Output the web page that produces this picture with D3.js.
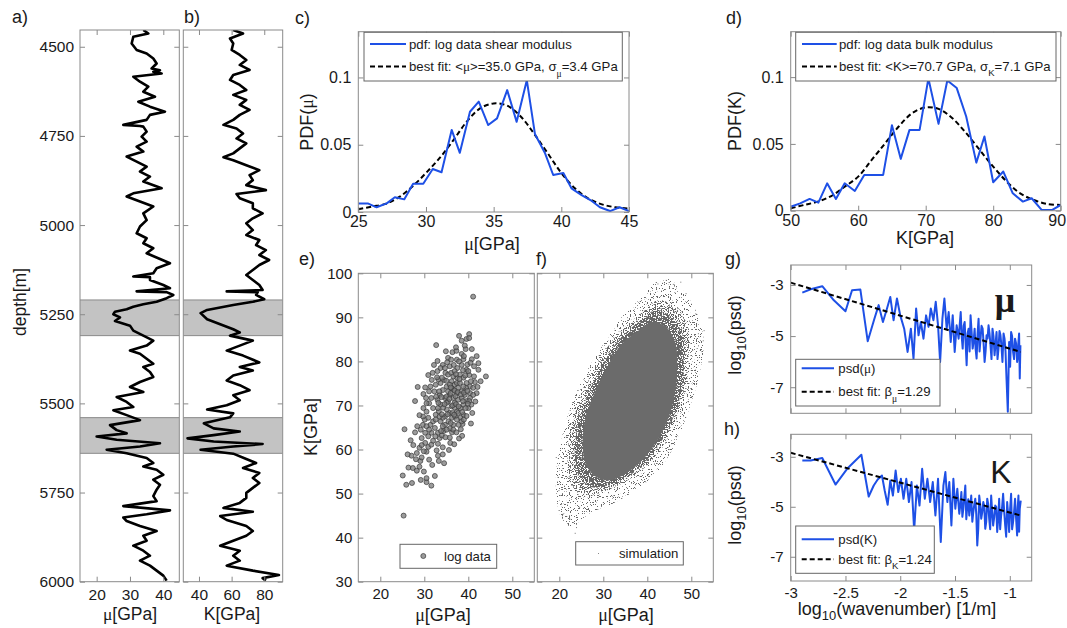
<!DOCTYPE html>
<html><head><meta charset="utf-8">
<script src="https://cdn.jsdelivr.net/npm/d3@7"></script>
<style>
html,body{margin:0;padding:0;background:#fff;}
svg{display:block;font-family:"Liberation Sans",Arial,sans-serif;}
</style></head><body>
<svg id="chart" width="1067" height="628"></svg>
<script>
// ---------------- DATA ----------------
// a) shear modulus log [depth m, mu GPa]
const logMu = [[4453,34],[4463,35.5],[4472,31],[4491,30.5],[4509,32],[4519,35],[4533,37],[4547,38],[4561,36.5],[4566,39],[4570,37],[4575,39.5],[4584,31],[4598,33],[4612,35.5],[4626,34],[4640,37.5],[4654,32.5],[4668,36],[4682,40.5],[4691,36],[4705,35],[4719,28],[4722,33],[4724,34],[4738,35],[4752,33.5],[4766,35],[4780,32],[4794,34],[4808,29],[4822,32],[4836,35],[4850,33],[4864,36],[4878,34],[4897,39.5],[4911,31],[4920,29],[4934,33],[4948,37],[4967,34],[4986,35],[5004,33],[5023,32],[5037,35],[5051,34],[5065,37],[5079,35],[5093,38.5],[5107,42],[5121,38],[5135,37],[5144,31],[5146,36],[5154,36],[5168,40],[5177,42],[5186,32],[5188,41],[5196,43],[5205,41],[5215,38],[5222,34],[5229,31],[5236,29],[5243,25.5],[5250,25],[5259,27],[5269,25.5],[5282,30],[5296,31],[5310,34],[5324,37],[5338,35],[5352,30],[5361,33],[5375,35],[5389,37],[5398,34],[5412,36],[5426,37],[5440,33],[5454,30],[5468,34],[5482,26],[5496,29],[5510,31],[5519,25],[5533,29],[5547,33],[5561,24],[5575,26],[5584,29],[5593,20],[5602,26],[5612,39],[5621,33],[5630,23],[5640,29],[5653,35],[5667,37],[5677,34],[5686,38],[5700,40],[5714,37],[5728,39],[5742,38],[5760,37],[5774,38],[5788,28],[5800,42],[5811,35],[5820,28],[5830,29],[5844,33],[5858,38],[5871,34],[5885,35],[5899,31],[5913,34],[5927,36],[5941,33],[5955,36],[5969,38],[5983,40],[5997,41]];
// b) bulk modulus log [depth m, K GPa]
const logK = [[4453,61],[4463,67],[4477,59],[4491,61],[4509,60],[4523,65],[4537,69],[4551,65],[4565,71],[4579,61],[4593,59],[4607,65],[4621,69],[4635,61],[4649,69],[4663,65],[4677,71],[4691,65],[4705,61],[4719,55],[4729,63],[4743,67],[4757,63],[4771,69],[4785,65],[4799,61],[4810,55],[4818,61],[4832,69],[4846,77],[4860,71],[4874,73],[4888,69],[4902,81],[4913,63],[4925,65],[4939,73],[4953,73],[4967,79],[4981,73],[4995,69],[5014,73],[5028,69],[5042,77],[5056,75],[5070,81],[5084,77],[5098,83],[5112,77],[5126,73],[5140,69],[5154,73],[5168,77],[5182,79],[5186,57],[5188,76],[5196,75],[5208,80],[5215,73],[5224,61],[5238,45],[5247,41],[5264,45],[5278,53],[5292,61],[5301,65],[5310,59],[5324,73],[5338,65],[5352,57],[5366,67],[5385,77],[5398,65],[5408,73],[5422,61],[5436,57],[5449,65],[5463,71],[5477,61],[5491,65],[5505,57],[5517,45],[5528,61],[5539,59],[5556,43],[5570,49],[5579,65],[5589,49],[5598,33],[5607,49],[5614,79],[5621,61],[5630,41],[5641,61],[5656,69],[5667,75],[5681,67],[5695,77],[5709,73],[5723,77],[5737,73],[5751,69],[5765,69],[5779,65],[5793,55],[5804,73],[5816,53],[5827,57],[5844,69],[5858,73],[5871,69],[5885,61],[5899,53],[5913,65],[5927,61],[5941,65],[5955,57],[5969,73],[5981,89],[5990,79],[5997,81]];
// shaded depth intervals [top, bottom]
const bands = [[5210,5310],[5540,5640]];
const depthTicks = [4500,4750,5000,5250,5500,5750,6000];
const muTicksLog = [20,30,40];
const kTicksLog = [40,60,80];

// c) pdf of shear modulus
const pdfMuX = [25,25.7,26.35,27.1,27.7,28.4,29.05,29.8,30.5,31.15,31.9,32.5,33.25,33.9,34.6,35.25,36.0,36.7,37.45,38.05,38.8,39.4,40.15,40.75,41.5,42.25,42.85,43.6,44.3,45];
const pdfMuY = [0.0064,0.0064,0.0035,0.0064,0.011,0.0094,0.021,0.021,0.032,0.0295,0.061,0.044,0.0745,0.082,0.0646,0.0696,0.0906,0.067,0.098,0.058,0.0436,0.0275,0.029,0.0176,0.0126,0.0082,0.0035,0.0007,0.0035,0.0007];
const fitMuX = [25,26,27,28,29,30,31,32,33,34,35,36,37,38,39,40,41,42,43,44,45];
const fitMuY = [0.002,0.004,0.006,0.011,0.019,0.029,0.040,0.053,0.067,0.077,0.0807,0.079,0.071,0.058,0.0436,0.029,0.0176,0.010,0.0057,0.0035,0.0025];
// d) pdf of bulk modulus
const pdfKX = [50,51.4,52.8,54.1,55.4,56.7,58.0,59.5,60.9,62.2,63.7,65.0,66.3,67.6,69.1,70.4,71.9,73.2,74.6,76.0,77.5,78.7,80.0,81.5,82.9,84.4,85.7,87.2,88.7,90];
const pdfKY = [0.003,0.0055,0.0088,0.006,0.0205,0.0088,0.0205,0.0148,0.0268,0.0268,0.0268,0.064,0.0388,0.0605,0.0605,0.099,0.065,0.0975,0.0918,0.0705,0.036,0.0555,0.0213,0.0293,0.013,0.0068,0.0093,0.0005,0.0005,0.0043];
const fitKX = [50,52,54,56,58,60,62,64,66,68,70,72,74,76,78,80,82,84,86,88,90];
const fitKY = [0.0018,0.0043,0.0068,0.011,0.018,0.0255,0.038,0.0505,0.063,0.073,0.0773,0.076,0.069,0.058,0.0455,0.033,0.0218,0.013,0.008,0.005,0.0043];
const pdfMuTicks = [25,30,35,40,45];
const pdfKTicks = [50,60,70,80,90];
const pdfYTicks = [0,0.05,0.1];

// e) cross-plot of log data [mu, K]
const crossLog = [[41.1,94.7],[32.7,83.7],[25.3,45],[25.5,64.6],[25.1,54.1],[25.9,52],[27.2,52.4],[26.4,55.9],[26.9,62.1],[27.5,61],[27.9,71],[28.5,74.2],[27.4,55.8],[28.3,55.2],[28.9,56.1],[29.1,57.4],[29.4,58.2],[29.9,55],[30.5,52.6],[30.5,53.5],[31.6,51.8],[32.4,54],[29.4,62.6],[30.2,63.8],[29.7,65.6],[30.1,66.8],[30.5,59.5],[30.9,60.6],[31.6,61.1],[32.0,62],[33.1,58.6],[33.3,57.4],[34.2,58.9],[34.2,60.5],[32.0,69.4],[33.0,71.3],[31.1,73.2],[31.4,74.3],[31.9,77.4],[32.2,79.2],[31.1,70.5],[29.8,69.4],[30.4,71.7],[30.5,68.6],[30.9,67.2],[31.4,65.6],[32.0,66.4],[32.4,64.9],[33.1,63.8],[33.5,62.6],[34.0,63.2],[34.4,64.2],[32.6,67.9],[33.3,68.7],[33.7,70.2],[33.5,72.4],[34.2,73.5],[33.7,75.1],[34.5,75.8],[34.8,77.4],[34.2,79.2],[35.4,80.8],[35.8,78.9],[36.4,82.1],[37.3,82.4],[37.9,85.8],[38.5,84.7],[39.6,85.1],[40.2,86.2],[40.2,85.3],[40.8,82.8],[39.4,82.8],[38.5,81.7],[38.9,80.5],[39.8,79.3],[40.8,80.5],[41.9,81.2],[42.3,79.6],[42.3,78.1],[41.3,76.6],[41.5,75.3],[42.8,75.5],[44.0,76.6],[41.9,72.8],[40.6,65.9],[38.7,65.8],[37.8,65.6],[36.3,63.9],[35.8,62.7],[34.7,65.6],[35.5,66.4],[36.3,67.2],[37.0,67.5],[37.4,68.6],[38.2,69.4],[38.9,70.2],[39.6,71.0],[40.4,71.7],[39.2,72.4],[38.5,73.2],[37.7,74.0],[36.9,74.8],[36.2,75.5],[37.4,76.3],[38.1,77.0],[38.9,76.3],[39.6,75.1],[40.4,74.3],[41.1,74.0],[35.8,72.4],[36.6,71.7],[35.4,70.9],[36.2,69.8],[35.1,69.1],[35.8,68.3],[34.7,67.5],[36.9,70.6],[37.7,71.3],[38.5,71.7],[37.4,72.8],[36.6,73.6],[35.1,74.3],[35.8,74.7],[34.7,71.7],[34.3,69.5],[33.1,69.4],[32.6,66.8],[33.7,66.4],[34.2,65.3],[31.6,63.8],[30.9,63.0],[32.5,63.0],[33.1,61.3],[30.2,61.5],[31.1,57.7],[29.9,59.6],[28.9,60.4],[28.3,59.2],[29.4,61.0],[29.7,67.5],[29.2,64.5],[30.5,65.3],[31.1,64.5],[30.5,70.5],[31.6,71.7],[32.3,73.2],[32.6,74.7],[33.2,75.9],[33.0,77.8],[33.7,78.5],[34.7,78.5],[36.7,79.2],[37.5,78.5],[37.4,80.4],[38.5,79.2],[39.6,78.1],[40.2,76.9],[39.5,74.0],[40.4,72.8],[41.1,72.4],[40.0,69.4],[38.9,67.9],[38.2,67.2],[38.5,66.4],[36.6,65.6],[37.4,66.8],[35.8,64.8],[35.1,64.5],[34.2,67.2],[33.5,67.5],[35.1,70.6],[36.9,69.5],[37.7,68.3],[36.4,68.3],[35.4,73.2],[36.2,73.9],[37.4,75.1],[38.1,75.1],[38.9,74.3],[40.2,71.0],[40.7,70.2],[39.4,69.4],[33.4,73.2],[35.4,77.0],[36.1,77.4],[36.9,77.8],[36.6,76.6],[37.9,80.0],[39.0,81.2],
  [34.0,68.0],[34.6,70.3],[35.0,72.0],[35.3,68.0],[35.7,71.5],[36.0,66.0],[36.0,72.8],[36.4,70.0],[36.8,67.9],[36.9,73.4],[37.2,70.3],[37.2,77.1],[37.6,73.0],[37.8,69.8],[38.0,76.0],[38.3,72.5],[38.6,68.5],[38.8,78.0],[39.0,72.9],[39.3,76.8],[39.8,73.3],[40.0,77.8],[40.6,75.5],[35.0,75.6],[34.0,76.3],[33.2,70.6],[32.7,72.0],[33.8,64.2],[34.8,62.8],[35.9,61.5],[36.6,64.5],[37.3,63.9],[38.3,64.6],[39.0,66.8],[39.6,67.6],[40.9,68.3],[41.6,70.9],[42.1,74.2],[41.3,78.9],[40.5,79.7],[39.2,83.6],[37.2,83.2],[36.1,80.4],[35.2,79.8],[34.9,82.3],[33.0,80.1],[32.9,76.4],[31.7,75.8],[30.9,76.9],[29.8,72.6],[30.2,74.1],[28.9,67.8],[28.4,65.3],[27.9,63.9],[27.1,58.6],[26.2,58.9],[28.1,57.8],[29.2,53.1],[31.8,56.5],[32.8,59.8],[35.6,59.9],[36.8,61.2],[37.9,62.5],[38.6,63.1],[34.5,56.9],[33.9,71.9],[37.1,72.1],[36.0,74.1],[38.8,71.0],[39.9,70.4]];
const crossMuTicks = [20,30,40,50];
const crossKTicks = [30,40,50,60,70,80,90,100];

// f) simulation cloud outlines (dense core, inner / middle / outer fringe) and stray samples [mu, K]
const simCore = [[38.1,87.1],[41.1,89.0],[44.2,87.9],[46.4,84.1],[46.8,78.8],[46.4,73.5],[44.9,67.4],[42.3,62.1],[38.9,57.6],[35.1,54.5],[31.3,53.0],[28.3,53.8],[26.0,56.8],[25.3,61.4],[26.0,67.4],[28.3,73.5],[31.3,79.5],[34.3,84.1]];
const simInner = [[38.1,89.0],[41.9,91.5],[45.3,90.3],[47.9,86.4],[48.3,79.9],[47.8,73.5],[45.8,67.0],[42.9,61.4],[39.1,56.6],[34.7,53.3],[30.6,51.7],[27.2,51.5],[24.5,53.9],[23.5,59.1],[24.3,65.9],[26.6,72.7],[29.8,79.2],[33.2,84.5]];
const simMid = [[38.1,90.5],[42.6,93.9],[46.0,92.4],[49.1,88.3],[49.4,81.1],[48.7,73.5],[46.4,66.7],[43.4,60.6],[39.2,55.7],[34.3,52.3],[29.8,50.4],[26.0,49.6],[23.0,51.5],[21.9,56.8],[22.6,64.4],[24.9,72.0],[28.3,78.8],[32.1,84.8]];
const simOuter = [[38.1,93.9],[43.4,98.9],[47.2,97.0],[50.9,91.7],[52.8,84.8],[51.7,76.5],[49.4,68.9],[46.4,61.4],[42.6,55.3],[37.4,50.8],[32.1,47.7],[26.8,45.5],[23.0,42.4],[20.4,44.7],[19.2,52.3],[20.0,59.8],[22.3,68.9],[26.0,77.3],[30.6,84.8],[34.3,90.2]];
const simStray = [[23.8,42.4],[23.5,41.1],[20.8,45.5],[20.4,47.7],[22.3,44.3],[44.2,98.5],[45.8,97.6],[52.6,84.8],[51.5,86.4],[48.7,95.5],[42.3,97.7],[50.2,82.6],[50.9,90.9],[19.6,53.8],[19.2,58.3],[21.5,62.9],[24.5,47.0],[47.5,98.1],[52.8,87.1],[19.8,50.8]];

// g) PSD of mu [log10 wavenumber, log10 psd]
const psdMu = [[-2.894,-3.30],[-2.818,-3.17],[-2.712,-3.05],[-2.606,-3.60],[-2.5,-4.03],[-2.44,-3.21],[-2.364,-3.18],[-2.297,-5.20],[-2.236,-4.32],[-2.197,-3.79],[-2.158,-4.45],[-2.121,-3.92],[-2.091,-3.47],[-2.061,-4.38],[-2.03,-3.53],[-2.0,-4.19],[-1.964,-4.71],[-1.933,-5.62],[-1.903,-4.71],[-1.879,-5.88],[-1.855,-3.92],[-1.833,-4.97],[-1.812,-4.45],[-1.788,-5.10],[-1.764,-4.19],[-1.742,-4.64],[-1.721,-3.92],[-1.697,-4.38],[-1.676,-3.66],[-1.655,-4.58],[-1.636,-6.01],[-1.615,-4.32],[-1.597,-3.53],[-1.576,-4.71],[-1.558,-4.06],[-1.539,-5.23],[-1.521,-4.19],[-1.503,-5.62],[-1.485,-4.58],[-1.467,-5.10],[-1.448,-4.06],[-1.439,-5.0],[-1.430,-5.49],[-1.421,-4.6],[-1.412,-4.45],[-1.403,-5.3],[-1.394,-6.14],[-1.385,-4.9],[-1.376,-4.71],[-1.367,-5.6],[-1.358,-4.19],[-1.349,-4.8],[-1.339,-5.49],[-1.330,-5.2],[-1.321,-4.71],[-1.312,-5.5],[-1.303,-5.88],[-1.294,-4.9],[-1.285,-4.32],[-1.276,-5.6],[-1.267,-5.10],[-1.258,-4.6],[-1.248,-4.71],[-1.239,-5.3],[-1.230,-6.01],[-1.221,-5.6],[-1.212,-4.97],[-1.203,-5.1],[-1.194,-4.58],[-1.185,-4.9],[-1.176,-5.36],[-1.167,-5.9],[-1.158,-4.71],[-1.149,-5.0],[-1.139,-5.75],[-1.130,-5.3],[-1.121,-4.84],[-1.112,-5.9],[-1.103,-5.49],[-1.094,-4.8],[-1.085,-4.97],[-1.076,-5.4],[-1.067,-6.01],[-1.057,-4.9],[-1.048,-5.10],[-1.039,-5.6],[-1.030,-6.66],[-1.018,-7.96],[-1.006,-5.23],[-0.997,-6.2],[-0.988,-4.84],[-0.979,-5.0],[-0.970,-5.62],[-0.961,-5.9],[-0.952,-5.10],[-0.942,-5.3],[-0.933,-6.01],[-0.927,-5.8],[-0.921,-5.23],[-0.915,-4.9],[-0.909,-6.66],[-0.903,-5.36]];
const fitPsdMu = [[-3,-2.91],[-0.9,-5.62]];
// h) PSD of K
const psdK = [[-2.894,-3.15],[-2.818,-3.15],[-2.712,-3.05],[-2.591,-4.11],[-2.485,-3.48],[-2.355,-2.92],[-2.288,-4.59],[-2.242,-4.15],[-2.206,-3.91],[-2.167,-3.75],[-2.142,-4.35],[-2.115,-4.92],[-2.091,-3.95],[-2.067,-4.55],[-2.042,-3.55],[-2.018,-4.41],[-1.994,-3.88],[-1.970,-4.68],[-1.945,-3.88],[-1.921,-4.81],[-1.897,-4.01],[-1.873,-5.95],[-1.848,-4.15],[-1.824,-4.95],[-1.800,-3.48],[-1.776,-4.68],[-1.752,-3.88],[-1.727,-4.81],[-1.703,-4.01],[-1.679,-5.35],[-1.655,-3.88],[-1.630,-6.41],[-1.606,-4.15],[-1.588,-3.61],[-1.570,-4.81],[-1.552,-4.01],[-1.533,-5.75],[-1.515,-3.88],[-1.497,-5.08],[-1.479,-4.28],[-1.461,-5.28],[-1.451,-4.9],[-1.442,-4.41],[-1.433,-5.4],[-1.424,-5.08],[-1.415,-4.6],[-1.406,-4.15],[-1.397,-5.5],[-1.388,-4.95],[-1.379,-4.7],[-1.370,-5.35],[-1.361,-5.0],[-1.352,-4.55],[-1.342,-5.6],[-1.333,-5.21],[-1.324,-4.9],[-1.315,-4.68],[-1.306,-5.3],[-1.297,-6.55],[-1.288,-5.9],[-1.279,-4.55],[-1.270,-4.9],[-1.261,-5.48],[-1.251,-5.2],[-1.242,-4.81],[-1.233,-5.0],[-1.224,-5.88],[-1.215,-5.6],[-1.206,-4.68],[-1.197,-4.9],[-1.188,-5.48],[-1.179,-5.9],[-1.170,-4.55],[-1.161,-5.2],[-1.152,-5.75],[-1.142,-5.4],[-1.133,-4.95],[-1.124,-5.0],[-1.115,-6.01],[-1.106,-5.5],[-1.097,-4.68],[-1.088,-5.9],[-1.079,-5.35],[-1.070,-5.0],[-1.061,-4.48],[-1.051,-5.2],[-1.042,-5.75],[-1.033,-6.2],[-1.024,-4.81],[-1.015,-5.3],[-1.006,-6.01],[-0.997,-5.1],[-0.988,-4.48],[-0.979,-5.9],[-0.970,-5.61],[-0.961,-5.2],[-0.952,-4.68],[-0.942,-5.5],[-0.933,-6.15],[-0.927,-5.0],[-0.921,-4.55],[-0.915,-6.0],[-0.909,-5.08],[-0.900,-4.75]];
const fitPsdK = [[-3,-2.84],[-0.9,-5.35]];
const psdXTicks = [-3,-2.5,-2,-1.5,-1];
const psdYTicks = [-3,-5,-7];

// ---------------- DRAWING ----------------
const svg = d3.select('#chart');
const defs = svg.append('defs');
const BLUE = '#1e50e6', BOX = '#8a8a8a', TXT = '#1a1a1a';
const SANS = 'Liberation Sans, Arial, sans-serif', SERIF = 'Liberation Serif, Times New Roman, serif';
const LFS = 13.2;

function makePanel(id, c) {
  const x = d3.scaleLinear().domain(c.xd).range([c.x0, c.x1]);
  const y = d3.scaleLinear().domain(c.yd).range(c.yDown ? [c.y0, c.y1] : [c.y1, c.y0]);
  defs.append('clipPath').attr('id', 'clip-' + id).append('rect')
    .attr('x', c.x0).attr('y', c.y0).attr('width', c.x1 - c.x0).attr('height', c.y1 - c.y0);
  const g = svg.append('g').attr('clip-path', `url(#clip-${id})`);
  return {x, y, g, c};
}
function frame(p, o) {
  const {x, y, c} = p;
  const fs = o.fs || 15;
  const fmt = d => String(d);
  const st = sel => {
    sel.select('.domain').remove();
    sel.selectAll('.tick line').attr('stroke', BOX);
    sel.selectAll('.tick text').attr('fill', TXT).style('font-size', fs + 'px').style('font-family', SANS);
  };
  const bottom = svg.append('g').attr('transform', `translate(0,${c.y1})`)
    .call(d3.axisBottom(x).tickValues(o.xt).tickSize(-5).tickPadding(o.xpad || 7).tickFormat(o.xlab === false ? () => '' : fmt)).call(st);
  if (o.lastDx) bottom.selectAll('.tick text').filter((d, i, n) => i === n.length - 1).attr('dx', o.lastDx);
  svg.append('g').attr('transform', `translate(0,${c.y0})`)
    .call(d3.axisTop(x).tickValues(o.xt).tickSize(-5).tickFormat(() => '')).call(st);
  svg.append('g').attr('transform', `translate(${c.x0},0)`)
    .call(d3.axisLeft(y).tickValues(o.yt).tickSize(-5).tickPadding(o.ypad || 6).tickFormat(o.ylab === false ? () => '' : fmt)).call(st);
  svg.append('g').attr('transform', `translate(${c.x1},0)`)
    .call(d3.axisRight(y).tickValues(o.yt).tickSize(-5).tickFormat(() => '')).call(st);
  svg.append('rect').attr('x', c.x0).attr('y', c.y0).attr('width', c.x1 - c.x0).attr('height', c.y1 - c.y0)
    .attr('fill', 'none').attr('stroke', BOX).attr('stroke-width', 1);
}
function rich(t, parts, fs) {
  let shift = 0;
  parts.forEach(p => {
    const o = typeof p === 'string' ? {t: p} : p;
    const ts = t.append('tspan').text(o.t);
    if (o.serif) ts.style('font-family', SERIF);
    const want = o.sub || 0;
    if (want !== shift) { ts.attr('dy', want - shift); shift = want; }
    if (o.sub) ts.style('font-size', (o.fs || fs * 0.72) + 'px');
  });
  return t;
}
function label(x, y, parts, opt = {}) {
  const fs = opt.fs || 18;
  const t = svg.append('text').attr('fill', TXT).style('font-size', fs + 'px').style('font-family', SANS)
    .attr('text-anchor', opt.anchor || 'middle');
  if (opt.weight) t.style('font-weight', opt.weight);
  if (opt.rotate) t.attr('transform', `translate(${x},${y}) rotate(-90)`);
  else t.attr('x', x).attr('y', y);
  return rich(t, parts, fs);
}

// ----- a) & b) well logs -----
const pa = makePanel('a', {x0: 80, x1: 179.3, y0: 30, y1: 581.7, xd: [15, 44.8], yd: [4453, 6000], yDown: true});
const pb = makePanel('b', {x0: 183.3, x1: 282.7, y0: 30, y1: 581.7, xd: [30.4, 91.3], yd: [4453, 6000], yDown: true});
[pa, pb].forEach(p => {
  p.g.selectAll('rect.band').data(bands).join('rect').attr('class', 'band')
    .attr('x', p.c.x0).attr('width', p.c.x1 - p.c.x0)
    .attr('y', d => p.y(d[0])).attr('height', d => p.y(d[1]) - p.y(d[0]))
    .attr('fill', '#c3c3c3');
  p.g.selectAll('line.bandEdge').data(bands.flat()).join('line').attr('class', 'bandEdge')
    .attr('x1', p.c.x0).attr('x2', p.c.x1).attr('y1', d => p.y(d)).attr('y2', d => p.y(d))
    .attr('stroke', '#8a8a8a').attr('stroke-width', 1);
});
pa.g.append('path').datum(logMu).attr('fill', 'none').attr('stroke', '#000').attr('stroke-width', 2.6)
  .attr('stroke-linejoin', 'round').attr('d', d3.line().x(d => pa.x(d[1])).y(d => pa.y(d[0])));
pb.g.append('path').datum(logK).attr('fill', 'none').attr('stroke', '#000').attr('stroke-width', 2.6)
  .attr('stroke-linejoin', 'round').attr('d', d3.line().x(d => pb.x(d[1])).y(d => pb.y(d[0])));
frame(pa, {xt: muTicksLog, yt: depthTicks, fs: 15.5, xpad: 7});
frame(pb, {xt: kTicksLog, yt: depthTicks, ylab: false, fs: 15.5, xpad: 7});
label(26, 302, ['depth[m]'], {rotate: true, fs: 17.5});
label(130, 620, [{t: 'μ', serif: true}, '[GPa]'], {fs: 17.5});
label(232, 620, ['K[GPa]'], {fs: 17.5});

// ----- c) & d) PDFs -----
const pc = makePanel('c', {x0: 358.3, x1: 629, y0: 31.7, y1: 212, xd: [25, 45], yd: [0, 0.134]});
const pd = makePanel('d', {x0: 790.7, x1: 1060.7, y0: 31.7, y1: 210.7, xd: [50, 90], yd: [0, 0.134]});
function pdfPanel(p, xs, ys, fx, fy) {
  p.g.append('path').datum(fx.map((v, i) => [v, fy[i]])).attr('fill', 'none').attr('stroke', '#000')
    .attr('stroke-width', 2).attr('stroke-dasharray', '5,3')
    .attr('d', d3.line().curve(d3.curveCatmullRom).x(d => p.x(d[0])).y(d => p.y(d[1])));
  p.g.append('path').datum(xs.map((v, i) => [v, ys[i]])).attr('fill', 'none').attr('stroke', BLUE)
    .attr('stroke-width', 2).attr('stroke-linejoin', 'round')
    .attr('d', d3.line().x(d => p.x(d[0])).y(d => p.y(d[1])));
}
pdfPanel(pc, pdfMuX, pdfMuY, fitMuX, fitMuY);
pdfPanel(pd, pdfKX, pdfKY, fitKX, fitKY);
frame(pc, {xt: pdfMuTicks, yt: pdfYTicks, fs: 16, xpad: 4, ypad: 7});
frame(pd, {xt: pdfKTicks, yt: pdfYTicks, fs: 16, xpad: 4, ypad: 7, lastDx: -4});
label(313, 122, ['PDF(', {t: 'μ', serif: true}, ')'], {rotate: true});
label(492, 249.5, [{t: 'μ', serif: true}, '[GPa]']);
label(741, 121, ['PDF(K)'], {rotate: true});
label(925, 244, ['K[GPa]']);

function legend(box, rows, fs) {
  svg.append('rect').attr('x', box[0]).attr('y', box[1]).attr('width', box[2] - box[0]).attr('height', box[3] - box[1])
    .attr('fill', '#fff').attr('stroke', '#666').attr('stroke-width', 1);
  rows.forEach(r => {
    if (r.line) svg.append('line').attr('x1', r.line[0]).attr('x2', r.line[1]).attr('y1', r.y).attr('y2', r.y)
      .attr('stroke', r.color).attr('stroke-width', 2).attr('stroke-dasharray', r.dash || null);
    const t = svg.append('text').attr('x', r.tx).attr('y', r.y + 4.5).attr('fill', TXT)
      .style('font-size', fs + 'px').style('font-family', SANS);
    rich(t, r.parts, fs);
  });
}
legend([364, 32.3, 622.3, 81], [
  {line: [370, 406], y: 44, color: BLUE, tx: 409, parts: ['pdf: log data shear modulus']},
  {line: [370, 406], y: 66.5, color: '#000', dash: '5,3', tx: 409,
   parts: ['best fit: <', {t: 'μ', serif: true}, '>=35.0 GPa, σ', {t: 'μ', serif: true, sub: 6}, '=3.4 GPa']}
], LFS);
legend([795.7, 32.3, 1056, 81], [
  {line: [802, 836.7], y: 44, color: BLUE, tx: 839, parts: ['pdf: log data bulk modulus']},
  {line: [802, 836.7], y: 66.5, color: '#000', dash: '5,3', tx: 839,
   parts: ['best fit: <K>=70.7 GPa, σ', {t: 'K', sub: 5}, '=7.1 GPa']}
], LFS);

// ----- e) & f) cross-plots -----
const pe = makePanel('e', {x0: 358.3, x1: 534.3, y0: 273.3, y1: 581.7, xd: [15, 55], yd: [30, 100]});
const pf = makePanel('f', {x0: 537.3, x1: 713.3, y0: 273.3, y1: 581.7, xd: [15, 55], yd: [30, 100]});
pe.g.selectAll('circle').data(crossLog).join('circle')
  .attr('cx', d => pe.x(d[0])).attr('cy', d => pe.y(d[1])).attr('r', 2.5)
  .attr('fill', '#7a7a7a').attr('fill-opacity', 0.75).attr('stroke', '#3a3a3a').attr('stroke-width', 0.7);

// stipple filters: a fixed noise texture thresholded at different levels gives dot densities
function stipple(id, threshold) {
  const f = defs.append('filter').attr('id', id).attr('filterUnits', 'userSpaceOnUse')
    .attr('x', 537).attr('y', 273).attr('width', 178).attr('height', 310)
    .attr('color-interpolation-filters', 'sRGB');
  f.append('feTurbulence').attr('type', 'fractalNoise').attr('baseFrequency', 0.85).attr('numOctaves', 2).attr('seed', 11).attr('result', 'n');
  f.append('feColorMatrix').attr('in', 'n').attr('type', 'matrix')
    .attr('values', `0 0 0 0 0  0 0 0 0 0  0 0 0 0 0  30 0 0 0 ${-30 * threshold}`).attr('result', 'm');
  f.append('feComposite').attr('in', 'SourceGraphic').attr('in2', 'm').attr('operator', 'in');
}
stipple('stSparse', 0.62);
stipple('stMid', 0.52);
stipple('stInner', 0.42);
const cloud = d3.line().curve(d3.curveCatmullRomClosed).x(d => pf.x(d[0])).y(d => pf.y(d[1]));
const CLOUD = '#666';
pf.g.append('path').datum(simOuter).attr('d', cloud).attr('fill', CLOUD).attr('filter', 'url(#stSparse)');
pf.g.append('path').datum(simMid).attr('d', cloud).attr('fill', CLOUD).attr('filter', 'url(#stMid)');
pf.g.append('path').datum(simInner).attr('d', cloud).attr('fill', CLOUD).attr('filter', 'url(#stInner)');
pf.g.append('path').datum(simCore).attr('d', cloud).attr('fill', '#6b6b6b');
pf.g.selectAll('rect.stray').data(simStray).join('rect').attr('class', 'stray')
  .attr('x', d => pf.x(d[0])).attr('y', d => pf.y(d[1])).attr('width', 1).attr('height', 1).attr('fill', '#777');
frame(pe, {xt: crossMuTicks, yt: crossKTicks, fs: 15, xpad: 7, ypad: 6});
frame(pf, {xt: crossMuTicks, yt: crossKTicks, ylab: false, fs: 15, xpad: 7});
label(317, 427, ['K[GPa]'], {rotate: true});
label(443, 621, [{t: 'μ', serif: true}, '[GPa]']);
label(626, 621, [{t: 'μ', serif: true}, '[GPa]']);
svg.append('rect').attr('x', 400).attr('y', 544.3).attr('width', 96.7).attr('height', 24).attr('fill', '#fff').attr('stroke', '#666');
svg.append('circle').attr('cx', 423.3).attr('cy', 556).attr('r', 2.5).attr('fill', '#7a7a7a').attr('fill-opacity', 0.75).attr('stroke', '#3a3a3a').attr('stroke-width', 0.7);
svg.append('text').attr('x', 444).attr('y', 561).attr('fill', TXT).style('font-size', LFS + 'px').style('font-family', SANS).text('log data');
svg.append('rect').attr('x', 575.7).attr('y', 541.7).attr('width', 107.6).attr('height', 23.3).attr('fill', '#fff').attr('stroke', '#666');
svg.append('rect').attr('x', 598).attr('y', 553).attr('width', 1).attr('height', 1).attr('fill', '#888');
svg.append('text').attr('x', 619).attr('y', 558).attr('fill', TXT).style('font-size', LFS + 'px').style('font-family', SANS).text('simulation');

// ----- g) & h) PSDs -----
const pg = makePanel('g', {x0: 790.7, x1: 1031.7, y0: 265, y1: 413.3, xd: [-3, -0.8], yd: [-8.02, -2.22]});
const ph = makePanel('h', {x0: 790.7, x1: 1031.7, y0: 434.3, y1: 581, xd: [-3, -0.8], yd: [-7.97, -2.1]});
function psdPanel(p, data, fit) {
  p.g.append('path').datum(data).attr('fill', 'none').attr('stroke', BLUE).attr('stroke-width', 2)
    .attr('stroke-linejoin', 'round').attr('d', d3.line().x(d => p.x(d[0])).y(d => p.y(d[1])));
  p.g.append('path').datum(fit).attr('fill', 'none').attr('stroke', '#000').attr('stroke-width', 2)
    .attr('stroke-dasharray', '5,3').attr('d', d3.line().x(d => p.x(d[0])).y(d => p.y(d[1])));
}
psdPanel(pg, psdMu, fitPsdMu);
psdPanel(ph, psdK, fitPsdK);
frame(pg, {xt: psdXTicks, yt: psdYTicks, xlab: false, fs: 15, ypad: 7});
frame(ph, {xt: psdXTicks, yt: psdYTicks, fs: 15, xpad: 6, ypad: 7});
label(1005, 312, [{t: 'μ', serif: true}], {fs: 36, weight: 'bold'});
label(1001, 483, ['K'], {fs: 32});
label(741, 335, ['log', {t: '10', sub: 5}, '(psd)'], {rotate: true});
label(741, 505, ['log', {t: '10', sub: 5}, '(psd)'], {rotate: true});
label(897, 615, ['log', {t: '10', sub: 5}, '(wavenumber) [1/m]']);
legend([795.7, 359.3, 940, 406], [
  {line: [801.7, 834], y: 368.3, color: BLUE, tx: 838.3, parts: ['psd(', {t: 'μ', serif: true}, ')']},
  {line: [801.7, 834], y: 391.7, color: '#000', dash: '5,3', tx: 838.3,
   parts: ['best fit: β', {t: 'μ', serif: true, sub: 6}, '=1.29']}
], LFS);
legend([795.7, 526, 934.3, 573.3], [
  {line: [801.7, 834], y: 539.3, color: BLUE, tx: 838.3, parts: ['psd(K)']},
  {line: [801.7, 834], y: 559.3, color: '#000', dash: '5,3', tx: 838.3,
   parts: ['best fit: β', {t: 'K', sub: 5}, '=1.24']}
], LFS);

// panel letters
[['a)', 12, 23], ['b)', 184, 23], ['c)', 295, 24], ['d)', 726, 24], ['e)', 299, 265], ['f)', 536, 265], ['g)', 725, 265], ['h)', 724, 435]]
  .forEach(([s, x, y]) => svg.append('text').attr('x', x).attr('y', y).attr('fill', TXT)
    .style('font-size', '18px').style('font-family', SANS).text(s));
</script></body></html>
